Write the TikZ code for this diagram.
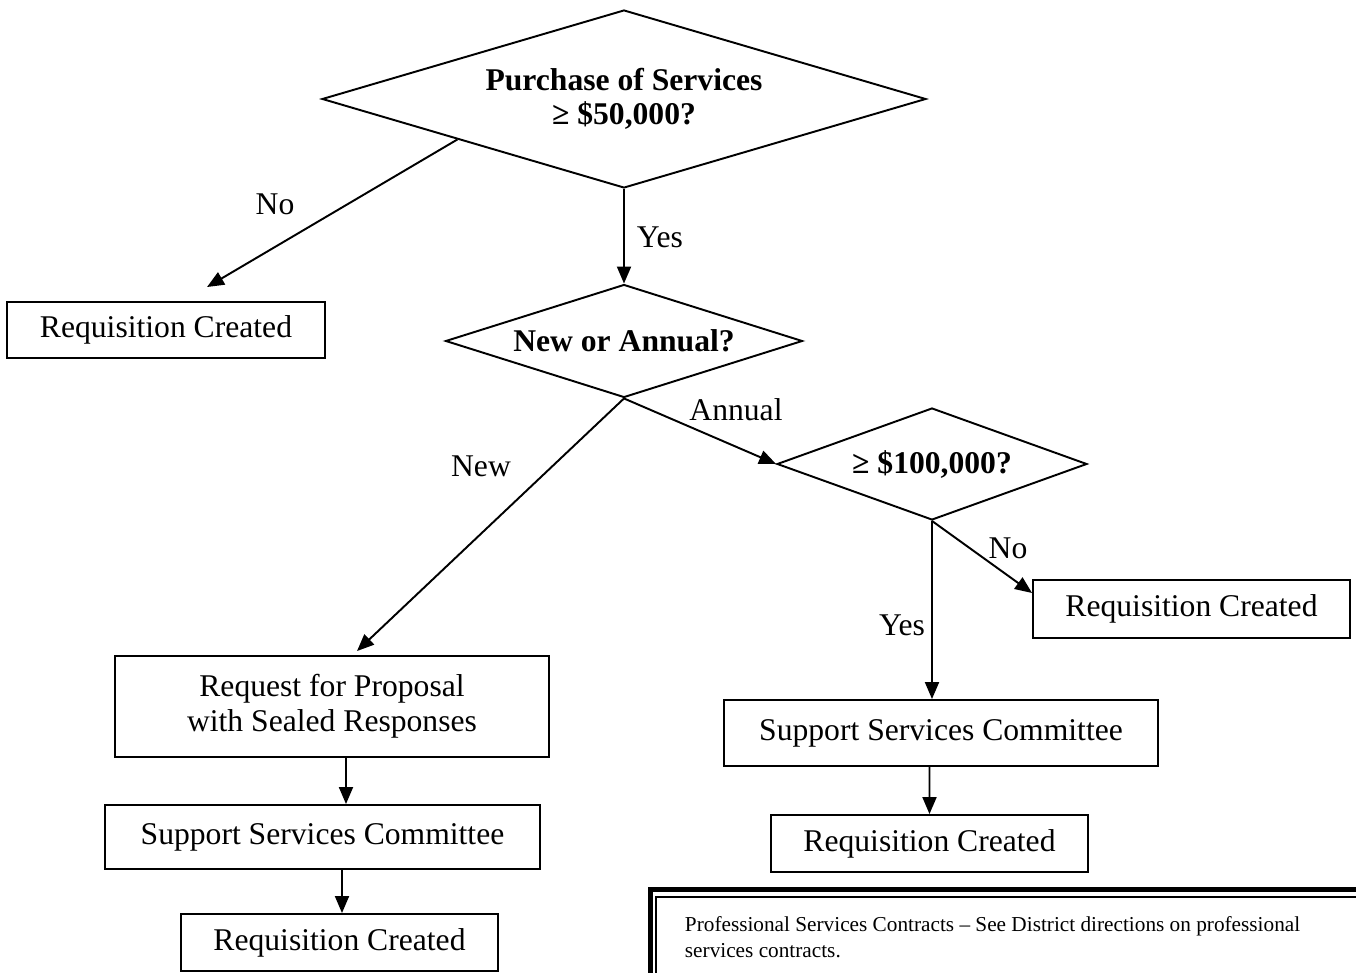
\documentclass[tikz,border=0pt]{standalone}
\usepackage{fontspec}
\setmainfont{Liberation Serif}
\usetikzlibrary{calc, arrows.meta, shapes.geometric}

\begin{document}
\begin{tikzpicture}[x=0.02cm, y=-0.02cm, line width=1.1pt,
    font=\fontsize{18}{20}\selectfont,
    box/.style={draw, rectangle, inner sep=0pt, align=center},
    ask/.style={draw, diamond, inner sep=0pt, align=center, font=\fontsize{18}{19.5}\selectfont\bfseries},
    arr/.style={-{Triangle[length=0.34cm, width=0.28cm]}}]
  \useasboundingbox (0,0) rectangle (1356,973);
  % decisions
  \node[ask, aspect=3.4, minimum width=12.08cm, minimum height=3.56cm] (d1) at (624,99) {Purchase of Services\\ ≥ \$50,000?};
  \node[ask, aspect=3.16, minimum width=7.14cm, minimum height=2.26cm] (d2) at (624,341) {New or Annual?};
  \node[ask, aspect=2.77, minimum width=6.2cm, minimum height=2.24cm] (d3) at (932,464) {≥ \$100,000?};
  % boxes
  \node[box, minimum width=6.36cm, minimum height=1.12cm] (req1) at (166,330) {Requisition Created};
  \node[box, minimum width=8.68cm, minimum height=2.02cm] (rfp) at (332,706.5) {Request for Proposal\\with Sealed Responses};
  \node[box, minimum width=8.7cm, minimum height=1.28cm] (ssc1) at (322.5,837) {Support Services Committee};
  \node[box, minimum width=6.34cm, minimum height=1.14cm] (req2) at (339.5,942.5) {Requisition Created};
  \node[box, minimum width=6.34cm, minimum height=1.16cm] (req3) at (1191.5,609) {Requisition Created};
  \node[box, minimum width=8.68cm, minimum height=1.32cm] (ssc2) at (941,733) {Support Services Committee};
  \node[box, minimum width=6.34cm, minimum height=1.14cm] (req4) at (929.5,843.5) {Requisition Created};
  % connectors
  \draw[arr] ($(d1.west)!0.45!(d1.south)$) -- ($(req1.north)+(41,-14)$);
  \draw[arr] (d1.south) -- (d2.north);
  \draw[arr] (d2.south) -- ($(rfp.north)+(25,-4)$);
  \draw[arr] (d2.south) -- (d3.west);
  \draw[arr] (d3.south) -- ($(req3.west)+(0,-16)$);
  \draw[arr] (d3.south) -- ([xshift=-0.18cm]ssc2.north);
  \draw[arr] ([xshift=-0.23cm]ssc2.south) -- (req4.north);
  \draw[arr] ([xshift=0.28cm]rfp.south) -- ([xshift=0.47cm]ssc1.north);
  \draw[arr] ([xshift=0.39cm]ssc1.south) -- ([xshift=0.05cm]req2.north);
  % labels
  \node (lno1) at (275,204) {No};
  \node (lyes1) at (660,237) {Yes};
  \node (lannual) at (736,410) {Annual};
  \node (lnew) at (481,466) {New};
  \node (lno2) at (1008,548) {No};
  \node (lyes2) at (902,625) {Yes};
  % note
  \begin{scope}
    \clip (0,0) rectangle (1356,973);
    \draw[line width=0.1cm] (650.5,889.5) rectangle (1420,1040);
    \draw (656,897) rectangle (1420,1040);
  \end{scope}
  \node[anchor=west, inner sep=0pt, align=left, font=\fontsize{12.1}{14.8}\selectfont] (note) at (684,937)
    {Professional Services Contracts -- See District directions on professional\\services contracts.};
\end{tikzpicture}
\end{document}
